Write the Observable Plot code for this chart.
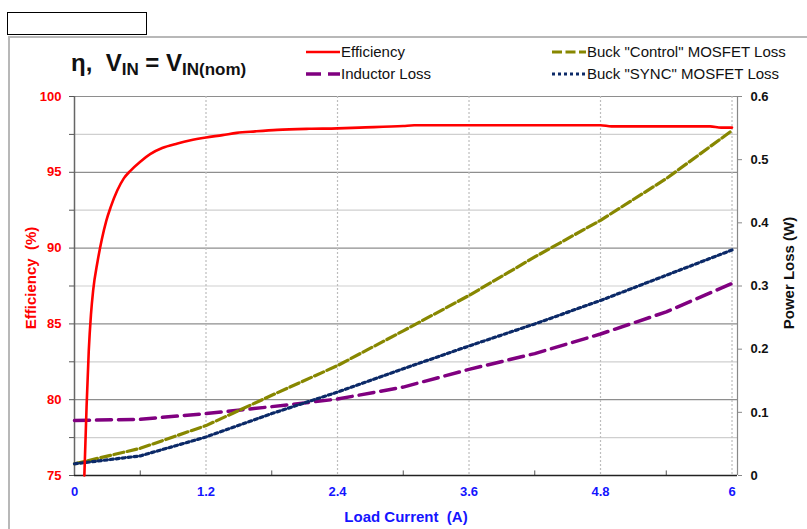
<!DOCTYPE html>
<html>
<head>
<meta charset="utf-8">
<script src="https://cdn.jsdelivr.net/npm/d3@7"></script>
<script src="https://cdn.jsdelivr.net/npm/@observablehq/plot@0.6"></script>
<style>
  html, body { margin: 0; padding: 0; background: #fff; }
  #wrap { position: relative; width: 807px; height: 529px; overflow: hidden; font-family: "Liberation Sans", Arial, sans-serif; }
  #wrap svg.plot { position: absolute; left: 0; top: 0; }
  .abs { position: absolute; white-space: nowrap; }
  .leg { position: absolute; font-size: 15px; line-height: 16px; color: #111; white-space: nowrap; }
</style>
</head>
<body>
<div id="wrap">
  <div class="abs" style="left:8px; top:36px; width:799px; height:493px; border-top:2px solid #b8b8b8; border-left:2px solid #b8b8b8;"></div>
  <div class="abs" style="left:7px; top:12px; width:138px; height:21px; border:1px solid #000; background:#fff;"></div>
</div>
<script>
// ---- Data ----
const effCurrent = [0.09, 0.11, 0.13, 0.15, 0.17, 0.21, 0.25, 0.29, 0.33, 0.39, 0.45, 0.51, 0.6, 0.69, 0.8, 0.94, 1.05, 1.2, 1.35, 1.48, 1.65, 1.85, 2.14, 2.4, 2.6, 3.0, 3.1, 4.8, 4.9, 5.8, 5.9, 6.0];
const efficiency = [75, 79.5, 83.2, 85.6, 87.2, 89.1, 90.6, 91.8, 92.7, 93.8, 94.6, 95.1, 95.7, 96.2, 96.6, 96.9, 97.1, 97.3, 97.45, 97.6, 97.7, 97.8, 97.87, 97.9, 97.95, 98.05, 98.1, 98.1, 98.03, 98.03, 97.95, 97.95];

const lossCurrent = [0, 0.6, 1.2, 1.8, 2.4, 3.0, 3.6, 4.2, 4.8, 5.4, 6.0];
const inductorLoss = [0.087, 0.089, 0.098, 0.109, 0.121, 0.140, 0.168, 0.193, 0.224, 0.259, 0.304];
const controlLoss  = [0.0185, 0.043, 0.079, 0.127, 0.174, 0.229, 0.285, 0.346, 0.404, 0.470, 0.546];
const syncLoss     = [0.0185, 0.031, 0.061, 0.098, 0.132, 0.169, 0.205, 0.240, 0.277, 0.317, 0.357];

const xTicks = [0, 1.2, 2.4, 3.6, 4.8, 6];
const xMinorTicks = [0.6, 1.8, 3.0, 4.2, 5.4];
const effTicks = [75, 77.5, 80, 82.5, 85, 87.5, 90, 92.5, 95, 97.5, 100];
const effMajor = [80, 85, 90, 95, 100];
const effMinor = [77.5, 82.5, 87.5, 92.5, 97.5];
const lossTicks = [0, 0.1, 0.2, 0.3, 0.4, 0.5, 0.6];

const labels = {
  eff: "Efficiency",
  ind: "Inductor Loss",
  ctl: 'Buck "Control" MOSFET Loss',
  syn: 'Buck "SYNC" MOSFET Loss'
};

// ---- Scales helpers ----
const EFF_MIN = 75, EFF_MAX = 100, LOSS_MAX = 0.6;
const lossToEff = w => EFF_MIN + w * (EFF_MAX - EFF_MIN) / LOSS_MAX;
const effToLoss = e => (e - EFF_MIN) * LOSS_MAX / (EFF_MAX - EFF_MIN);

const effData = effCurrent.map((x, i) => ({x, y: efficiency[i]}));
const mk = arr => lossCurrent.map((x, i) => ({x, y: lossToEff(arr[i])}));
const indData = mk(inductorLoss), ctlData = mk(controlLoss), synData = mk(syncLoss);

const COL = { eff: "#ff0000", ind: "#800080", ctl: "#878700", syn: "#0c2a68" };
const DASH = { ind: "15,7", ctl: "10,3.5", syn: "3,3" };
const FONT = '"Liberation Sans", Arial, sans-serif';

const chart = Plot.plot({
  width: 807,
  height: 529,
  marginLeft: 74,
  marginRight: 70,
  marginTop: 96,
  marginBottom: 54,
  style: { fontFamily: FONT, background: "transparent" },
  x: { domain: [0, 6.05], axis: null },
  y: { domain: [EFF_MIN, EFF_MAX], axis: null },
  marks: [
    Plot.ruleY(effMinor, { stroke: "#cfcfcf", strokeWidth: 1.2 }),
    Plot.ruleY(effMajor, { stroke: "#8e8e8e", strokeWidth: 1.2 }),
    Plot.ruleX(xTicks.slice(1), { stroke: "#bdbdbd", strokeDasharray: "2,2", strokeWidth: 1.2 }),
    Plot.ruleX(xMinorTicks, { y1: 75, y2: 75.3, stroke: "#555" }),
    Plot.ruleX([0], { stroke: "#666", strokeWidth: 1.5 }),
    Plot.ruleX([6.05], { stroke: "#888", strokeWidth: 1.2 }),
    Plot.ruleY([75], { stroke: "#222", strokeWidth: 1.5 }),
    Plot.axisY(effTicks, {
      anchor: "left", tickSize: 5, tickPadding: 8, stroke: "#555",
      fill: "#ff0000", fontSize: 13, fontWeight: "bold",
      tickFormat: d => (d % 5 === 0 ? String(d) : ""), label: null
    }),
    Plot.axisY(lossTicks.map(lossToEff), {
      anchor: "right", tickSize: 4, tickPadding: 9, stroke: "#888",
      fill: "#111", fontSize: 13, fontWeight: "bold",
      tickFormat: v => String(+effToLoss(v).toFixed(1)), label: null
    }),
    Plot.axisX(xTicks, {
      anchor: "bottom", tickSize: 0, tickPadding: 11,
      fill: "#1414ff", fontSize: 13, fontWeight: "bold",
      tickFormat: d => String(d), label: null
    }),
    Plot.line(indData, { x: "x", y: "y", stroke: COL.ind, strokeWidth: 3.5, strokeDasharray: DASH.ind }),
    Plot.line(ctlData, { x: "x", y: "y", stroke: COL.ctl, strokeWidth: 3.2, strokeDasharray: DASH.ctl }),
    Plot.line(synData, { x: "x", y: "y", stroke: COL.syn, strokeWidth: 3.2, strokeDasharray: DASH.syn }),
    Plot.line(effData, { x: "x", y: "y", stroke: COL.eff, strokeWidth: 2.6, curve: "monotone-x" }),
    Plot.text(["Efficiency  (%)"], { frameAnchor: "left", textAnchor: "middle", dx: -43, dy: -8, rotate: -90, fill: "#ff0000", fontSize: 15, fontWeight: "bold" }),
    Plot.text(["Power Loss (W)"], { frameAnchor: "right", textAnchor: "middle", dx: 52, dy: -13, rotate: -90, fill: "#111", fontSize: 15, fontWeight: "bold" }),
    Plot.text(["Load Current  (A)"], { frameAnchor: "bottom", dy: 46, fill: "#1414ff", fontSize: 15, fontWeight: "bold" })
  ]
});
chart.classList.add("plot");
const wrap = document.getElementById("wrap");
wrap.appendChild(chart);

// Title
const title = document.createElement("div");
title.className = "abs";
title.style.cssText = "left:71px; top:50px; font-size:24px; font-weight:bold; line-height:26px; color:#111;";
title.innerHTML = 'η,&nbsp;&nbsp;V<sub style="font-size:17px; vertical-align:-4px;">IN</sub> = V<sub style="font-size:17px; vertical-align:-4px;">IN(nom)</sub>';
wrap.appendChild(title);

// Legend
function legendItem(left, cy, color, width, dash, text) {
  const d = document.createElement("div");
  d.className = "leg";
  d.style.left = left + "px";
  d.style.top = (cy - 8) + "px";
  d.innerHTML = `<svg width="36" height="16" style="vertical-align:top"><line x1="1" y1="8" x2="35" y2="8" stroke="${color}" stroke-width="${width}" ${dash ? `stroke-dasharray="${dash}"` : ""}/></svg><span>${text}</span>`;
  wrap.appendChild(d);
}
legendItem(305, 52, COL.eff, 2.5, null, labels.eff);
legendItem(305, 74, COL.ind, 3.5, DASH.ind, labels.ind);
legendItem(551, 52, COL.ctl, 3.2, DASH.ctl, labels.ctl);
legendItem(551, 74, COL.syn, 3.2, DASH.syn, labels.syn);
</script>
</body>
</html>
